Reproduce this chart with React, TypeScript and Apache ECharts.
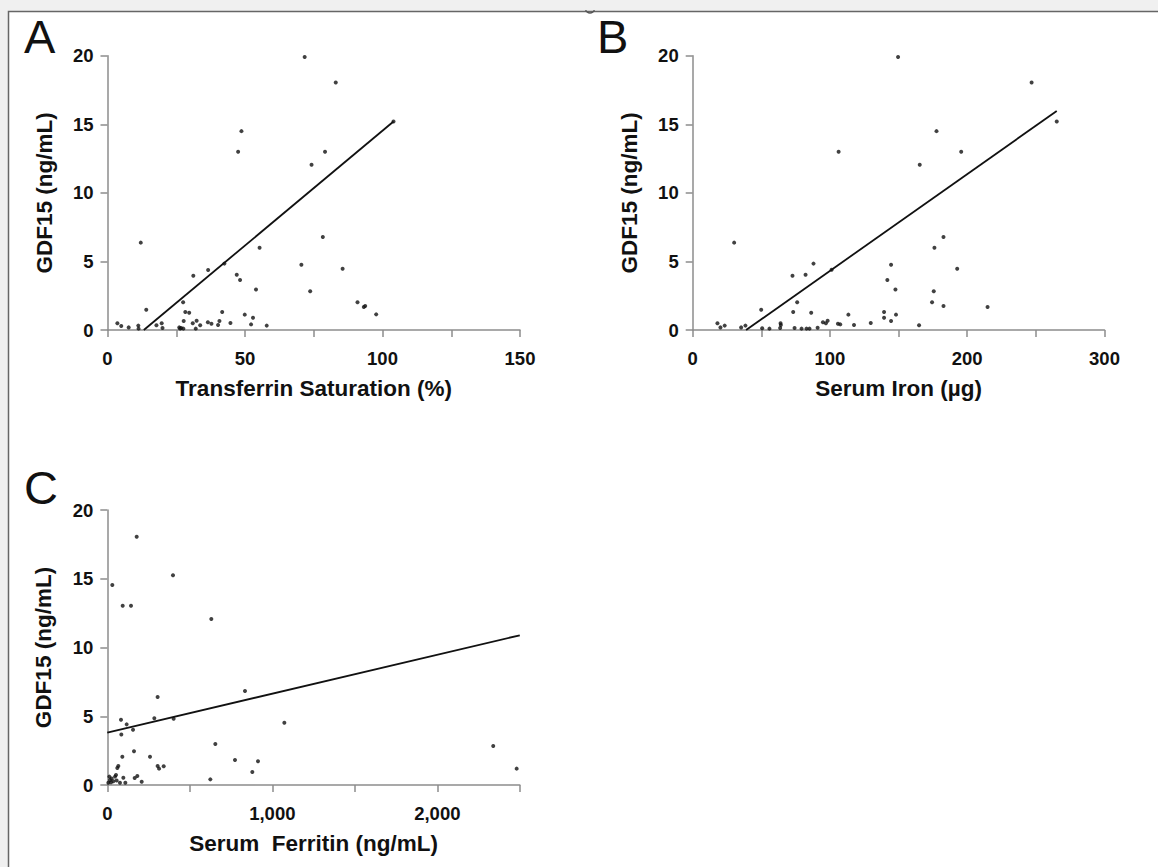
import React, { useEffect, useRef } from "react";
import * as echarts from "echarts";

// Panel A: Transferrin Saturation (%) vs GDF15 (ng/mL)
const satPoints: number[][] = [
  [71.7, 19.9], [83.0, 18.05], [104.0, 15.2], [48.7, 14.5], [47.5, 13.0], [79.1, 13.0],
  [74.2, 12.05], [12.1, 6.37], [78.3, 6.78], [55.3, 6.0], [42.5, 4.84], [70.5, 4.76],
  [85.5, 4.47], [31.2, 3.96], [36.6, 4.37], [47.0, 4.03], [48.2, 3.65], [54.0, 2.96],
  [73.7, 2.82], [27.5, 2.02], [14.1, 1.48], [90.9, 2.02], [93.2, 1.68], [93.7, 1.75],
  [97.7, 1.14], [28.3, 1.31], [29.7, 1.26], [41.7, 1.31], [49.9, 1.12], [52.9, 0.9],
  [3.6, 0.49], [5.0, 0.29], [7.7, 0.19], [11.2, 0.32], [11.3, 0.1], [17.8, 0.34],
  [19.7, 0.49], [20.0, 0.15], [26.1, 0.19], [26.4, 0.1], [27.6, 0.1], [27.7, 0.66],
  [31.0, 0.49], [32.4, 0.68], [32.1, 0.1], [33.7, 0.34], [36.5, 0.56], [37.8, 0.46],
  [40.2, 0.36], [40.7, 0.66], [44.7, 0.51], [52.2, 0.41], [57.9, 0.32], [26.8, 0.15],
];
const satFit: number[][] = [[13.2, 0], [104, 15.2]];

// Panel B: Serum Iron (µg) vs GDF15 (ng/mL)
const ironPoints: number[][] = [
  [149.6, 19.9], [177.6, 14.5], [106.3, 13.0], [165.4, 12.05], [30.2, 6.37], [176.1, 6.0],
  [88.0, 4.84], [72.7, 3.96], [82.2, 4.03], [144.5, 4.76], [101.2, 4.4], [141.8, 3.65],
  [147.7, 2.96], [175.6, 2.82], [49.9, 1.48], [76.1, 2.02], [73.2, 1.31], [86.3, 1.26],
  [174.4, 2.02], [139.4, 1.31], [139.4, 0.9], [148.1, 1.12], [113.4, 1.12], [144.5, 0.66],
  [94.9, 0.56], [97.0, 0.49], [98.3, 0.68], [105.8, 0.46], [107.5, 0.41], [117.5, 0.36],
  [129.7, 0.51], [164.9, 0.34], [18.0, 0.49], [20.2, 0.19], [23.3, 0.32], [35.3, 0.19],
  [38.4, 0.32], [50.6, 0.12], [55.9, 0.1], [63.7, 0.15], [64.0, 0.49], [64.2, 0.36],
  [74.2, 0.15], [79.3, 0.1], [82.9, 0.1], [85.1, 0.1], [91.0, 0.17], [246.9, 18.05],
  [265.2, 15.2], [195.6, 13.0], [182.7, 6.78], [192.7, 4.47], [182.7, 1.75], [214.8, 1.68],
];
const ironFit: number[][] = [[38.9, 0], [265.2, 15.97]];

// Panel C: Serum Ferritin (ng/mL) vs GDF15 (ng/mL)
const ferritinPoints: number[][] = [
  [178, 18.06], [398, 15.25], [30.5, 14.54], [93.1, 13.04], [143.6, 13.04], [630.5, 12.07],
  [305, 6.4], [834.5, 6.84], [83, 4.75], [117.4, 4.41], [155.8, 4.02], [85, 3.68],
  [285, 4.85], [402, 4.82], [1073, 4.53], [161.8, 2.45], [91.1, 2.06], [258.8, 2.06],
  [654.7, 2.98], [773.9, 1.82], [913.3, 1.72], [879, 0.95], [305, 1.38], [313.6, 1.19],
  [341.6, 1.36], [624.4, 0.41], [66.9, 1.38], [60.8, 1.24], [182, 0.65], [165.8, 0.51],
  [97.2, 0.53], [208.3, 0.24], [109.3, 0.17], [12.3, 0.61], [16.4, 0.36], [26.5, 0.48],
  [36.6, 0.27], [46.7, 0.61], [56.8, 0.32], [6.3, 0.17], [76.8, 0.17], [22.4, 0.19],
  [52.7, 0.73], [2339, 2.84], [2481, 1.19],
];
const ferritinFit: number[][] = [[0, 3.81], [2500, 10.89]];

const panelLetters = ["A", "B", "C"];
const xNames = ["Transferrin Saturation (%)", "Serum Iron (\u00b5g)", "Serum  Ferritin (ng/mL)"];
const yName = "GDF15 (ng/mL)";
const xMaxes = [150, 300, 2500];
const xTickSteps = [25, 50, 500];
const xLabelSteps = [50, 100, 1000];
const yMax = 20;
const yInterval = 5;

const FONT = "'Liberation Sans', Arial, Helvetica, sans-serif";
const AXIS_COLOR = "#8c8c8c";

export default function App() {
  const ref = useRef<HTMLDivElement>(null);

  useEffect(() => {
    if (!ref.current) return;
    const chart = echarts.init(ref.current, null, { renderer: "svg" });

    const grids = [
      { left: 107.5, top: 55.7, width: 412.5, height: 274.3 },
      { left: 692.7, top: 55.7, width: 411.8, height: 274.3 },
      { left: 107.3, top: 510, width: 412.5, height: 275 },
    ];

    const lineStyle = { color: AXIS_COLOR, width: 1.5 };
    const tickLabel = { fontFamily: FONT, fontWeight: "bold" as const, fontSize: 18.5, color: "#111" };
    const nameStyle = { fontFamily: FONT, fontWeight: "bold" as const, fontSize: 22.5, color: "#111" };

    const xAxes = grids.map((_, i) => ({
      type: "value",
      gridIndex: i,
      min: 0,
      max: xMaxes[i],
      interval: xTickSteps[i],
      name: xNames[i],
      nameLocation: "middle",
      nameGap: 46.5,
      nameTextStyle: nameStyle,
      axisLine: { show: true, onZero: false, lineStyle },
      axisTick: { show: true, length: 7, lineStyle },
      splitLine: { show: false },
      axisLabel: {
        ...tickLabel,
        margin: 19,
        formatter: (v: number) =>
          Math.abs(v % xLabelSteps[i]) > 1e-6
            ? ""
            : i === 2
            ? v.toLocaleString("en-US")
            : String(v),
      },
    }));

    const yAxes = grids.map((_, i) => ({
      type: "value",
      gridIndex: i,
      min: 0,
      max: yMax,
      interval: yInterval,
      name: yName,
      nameLocation: "middle",
      nameGap: 52,
      nameTextStyle: nameStyle,
      axisLine: { show: true, onZero: false, lineStyle },
      axisTick: { show: true, length: 7, lineStyle },
      splitLine: { show: false },
      axisLabel: { ...tickLabel, margin: 14 },
    }));

    const pointSets = [satPoints, ironPoints, ferritinPoints];
    const fits = [satFit, ironFit, ferritinFit];
    const series: any[] = [];
    pointSets.forEach((pts, i) => {
      series.push({
        type: "scatter",
        xAxisIndex: i,
        yAxisIndex: i,
        data: pts,
        symbol: "circle",
        symbolSize: 4,
        itemStyle: { color: "#111" },
        z: 3,
      });
      series.push({
        type: "line",
        xAxisIndex: i,
        yAxisIndex: i,
        data: fits[i],
        symbol: "none",
        lineStyle: { color: "#111", width: 1.8 },
        z: 4,
      });
    });

    const letterPos = [
      [24, 36],
      [597, 36],
      [24, 487],
    ];

    chart.setOption({
      animation: false,
      backgroundColor: "#f0f0f0",
      grid: grids,
      xAxis: xAxes,
      yAxis: yAxes,
      series,
      graphic: [
        {
          type: "rect",
          shape: { x: 8.5, y: 11.5, width: 1200, height: 900 },
          style: { fill: "#ffffff", stroke: "#666666", lineWidth: 1.5 },
          z: 0,
        },
        {
          type: "arc",
          shape: { cx: 590, cy: 8, r: 5, startAngle: Math.PI * 0.15, endAngle: Math.PI * 0.85 },
          style: { stroke: "#555", lineWidth: 1.5, fill: "none" },
          z: 1,
        },
        ...panelLetters.map((l, i) => ({
          type: "text",
          x: letterPos[i][0],
          y: letterPos[i][1],
          style: {
            text: l,
            fontFamily: FONT,
            fontSize: 47,
            fill: "#111",
            verticalAlign: "middle",
            align: "left",
          },
          z: 1,
        })),
      ],
    });

    return () => chart.dispose();
  }, []);

  return (
    <div
      ref={ref}
      style={{ position: "absolute", left: 0, top: 0, width: 1158, height: 867 }}
    />
  );
}
